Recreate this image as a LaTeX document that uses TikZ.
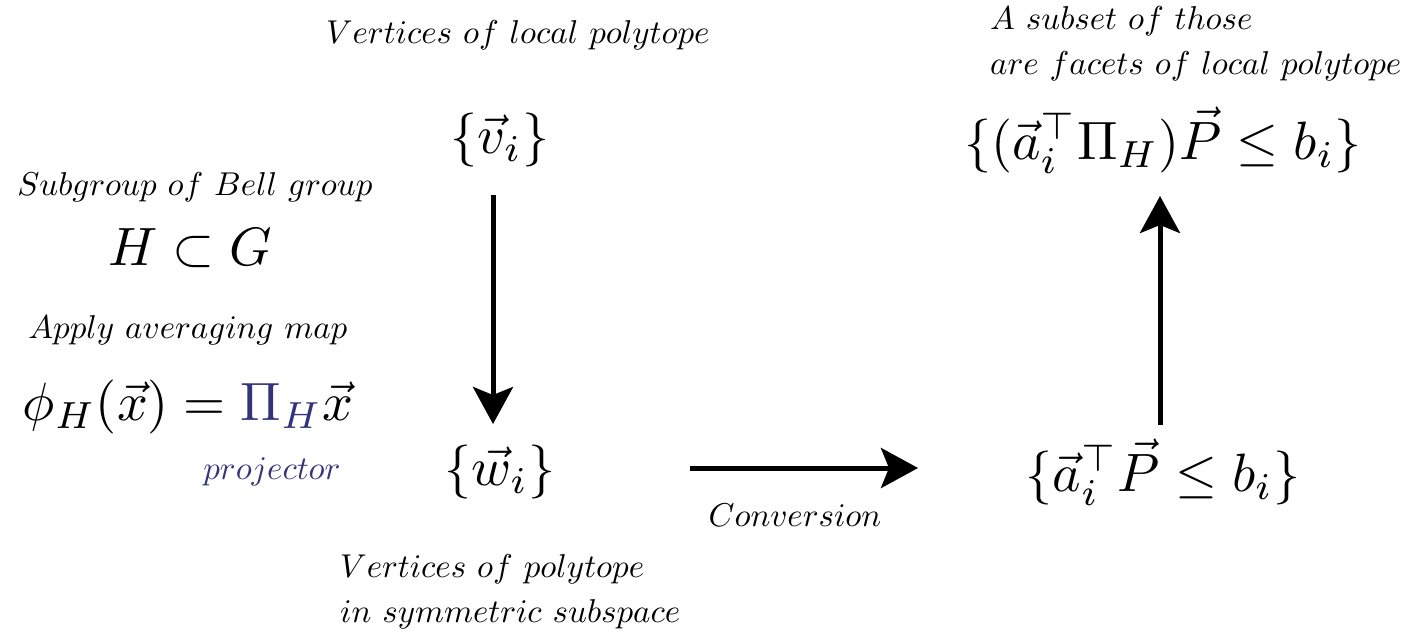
\RequirePackage{fix-cm}
\documentclass[tikz,border=0pt]{standalone}
\usepackage{amsmath}
\usepackage{graphicx}
\usetikzlibrary{arrows.meta}
\definecolor{projblue}{RGB}{52,52,122}
\newcommand{\mbig}[1]{\scalebox{5.4}{$#1$}}
\newcommand{\itx}[1]{\scalebox{3.3}{$#1$}}
\tikzset{
  lbl/.style={inner sep=0pt, align=left, font=\fontsize{10}{45}\selectfont},
  big/.style={inner sep=0pt},
  bigarrow/.style={line width=5pt, -{Stealth[length=37pt,width=40pt,inset=8pt]}},
}
\begin{document}
\begin{tikzpicture}[x=1pt,y=-1pt]
\useasboundingbox (0,0) rectangle (1403,633);
% texts
\node[lbl] (tv) at (518,35) {\itx{Vertices\ of\ local\ polytope}};
\node[big] (v) at (500,140) {\mbig{\{\vec v_i\}}};
\node[big] (w) at (500,472) {\mbig{\{\vec w_i\}}};
\node[lbl, anchor=west] (tw) at (340,592) {\itx{Vertices\ of\ polytope}\\\itx{in\ symmetric\ subspace}};
\node[lbl] (sg) at (195,187) {\itx{Subgroup\ of\ Bell\ group}};
\node[big] (hg) at (190,248) {\mbig{H\subset G}};
\node[lbl] (am) at (188,330) {\itx{Apply\ averaging\ map}};
\node[big] (phi) at (188,407) {\mbig{\phi_H(\vec x)=\textcolor{projblue}{\Pi_H}\vec x}};
\node[lbl, text=projblue] (pj) at (272,472) {\itx{projector}};
\node[big] (a) at (1163,472) {\mbig{\{\vec a_i^{\top}\vec P\le b_i\}}};
\node[big] (ap) at (1163,140) {\mbig{\{(\vec a_i^{\top}\Pi_H)\vec P\le b_i\}}};
\node[lbl, anchor=west] (ts) at (990,44) {\itx{A\ subset\ of\ those}\\\itx{are\ facets\ of\ local\ polytope}};
\node[lbl] (cv) at (795,515) {\itx{Conversion}};
% arrows
\coordinate (d1) at (493,195);
\coordinate (d2) at (493,424);
\coordinate (c1) at (690,468);
\coordinate (c2) at (918,468);
\coordinate (u1) at (1160,425);
\coordinate (u2) at (1160,196);
\draw[bigarrow] (d1) -- (d2);
\draw[bigarrow] (c1) -- (c2);
\draw[bigarrow] (u1) -- (u2);
\end{tikzpicture}
\end{document}
